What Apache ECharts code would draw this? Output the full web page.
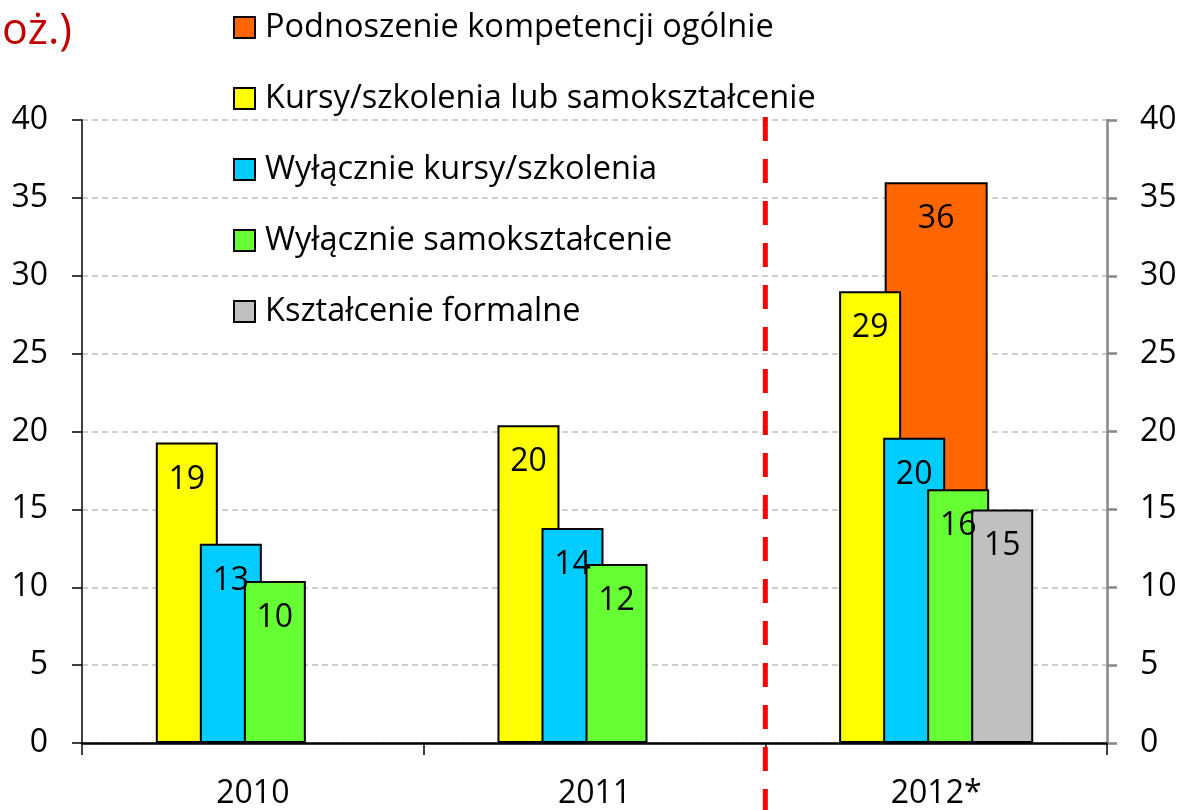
<!DOCTYPE html>
<html>
<head>
<meta charset="utf-8">
<script src="https://cdn.jsdelivr.net/npm/echarts@6/dist/echarts.min.js"></script>
<style>
  html, body { margin: 0; padding: 0; background: #fff; }
  #chart { width: 1182px; height: 810px; }
</style>
</head>
<body>
<div id="chart"></div>
<script>
const years = ['2010', '2011', '2012*'];
const podnoszenie = [null, null, 36.0];
const kursyLubSamo = [19.3, 20.4, 29.0];
const kursy = [12.8, 13.8, 19.6];
const samo = [10.4, 11.5, 16.3];
const formalne = [null, null, 15.0];
const yTicks = { min: 0, max: 40, interval: 5 };
const dividerAt = 2; // granica między 2011 a 2012*

const FONT = 'Open Sans';
const FS = 32;
const chart = echarts.init(document.getElementById('chart'));

const barLabel = {
  show: true,
  position: 'insideTop',
  distance: 21,
  fontFamily: FONT,
  fontSize: FS,
  color: '#000',
  formatter: p => Math.round(p.value)
};

function bar(name, color, data) {
  return {
    name: name,
    type: 'bar',
    xAxisIndex: 0,
    barWidth: 62,
    barGap: '-29%',
    z: 2,
    itemStyle: { color: color, borderColor: '#000', borderWidth: 2 },
    label: barLabel,
    data: data
  };
}

chart.setOption({
  animation: false,
  title: {
    text: 'oż.)',
    left: -3,
    top: 5,
    textStyle: { color: '#c00000', fontFamily: FONT, fontSize: 43, fontWeight: 'normal' }
  },
  legend: {
    orient: 'vertical',
    left: 228,
    top: 6,
    itemWidth: 21,
    itemHeight: 21,
    itemGap: 38,
    icon: 'rect',
    textStyle: { color: '#000', fontFamily: FONT, fontSize: 32.5, lineHeight: FS, padding: [0, 0, 0, 5] },
    data: [
      'Podnoszenie kompetencji ogólnie',
      'Kursy/szkolenia lub samokształcenie',
      'Wyłącznie kursy/szkolenia',
      'Wyłącznie samokształcenie',
      'Kształcenie formalne'
    ]
  },
  grid: { left: 82, right: 75, top: 120, bottom: 67, containLabel: false },
  xAxis: [{
    type: 'category',
    data: years,
    axisLine: { lineStyle: { color: '#000', width: 2.5 } },
    axisTick: { show: true, length: 12, interval: 0, lineStyle: { color: '#000', width: 1.5 } },
    axisLabel: { color: '#000', fontFamily: FONT, fontSize: FS, margin: 35 }
  }, {
    type: 'category',
    data: years,
    show: false
  }, {
    type: 'value',
    min: 0,
    max: years.length,
    show: false
  }],
  yAxis: [{
    type: 'value',
    min: yTicks.min,
    max: yTicks.max,
    interval: yTicks.interval,
    axisLine: { show: true, lineStyle: { color: '#000', width: 1.5 } },
    axisTick: { show: true, length: 10, lineStyle: { color: '#000', width: 1.5 } },
    axisLabel: { color: '#000', fontFamily: FONT, fontSize: FS, margin: 34 },
    splitLine: { lineStyle: { color: '#bfbfbf', width: 1.5, type: [6, 4] } }
  }, {
    type: 'value',
    position: 'right',
    min: yTicks.min,
    max: yTicks.max,
    interval: yTicks.interval,
    axisLine: { show: true, lineStyle: { color: '#868686', width: 2.5 } },
    axisTick: { show: true, length: 10, lineStyle: { color: '#868686', width: 2.5 } },
    axisLabel: { color: '#000', fontFamily: FONT, fontSize: FS, margin: 33 },
    splitLine: { show: false }
  }],
  series: [
    {
      name: 'Podnoszenie kompetencji ogólnie',
      type: 'bar',
      xAxisIndex: 1,
      barWidth: 103,
      z: 1,
      itemStyle: { color: '#ff6600', borderColor: '#000', borderWidth: 2 },
      label: barLabel,
      data: podnoszenie
    },
    bar('Kursy/szkolenia lub samokształcenie', '#ffff00', kursyLubSamo),
    bar('Wyłącznie kursy/szkolenia', '#00ccff', kursy),
    bar('Wyłącznie samokształcenie', '#66ff33', samo),
    bar('Kształcenie formalne', '#c0c0c0', formalne)
  ]
});

// czerwona przerywana linia oddzielająca prognozę
const dx = chart.convertToPixel({ xAxisIndex: 2 }, dividerAt);
const yTop = chart.convertToPixel({ yAxisIndex: 0 }, yTicks.max);
chart.setOption({
  graphic: [{
    type: 'line',
    z: 100,
    shape: { x1: dx, y1: yTop - 3, x2: dx, y2: 810 },
    style: { stroke: '#ff0000', lineWidth: 5, lineDash: [24, 18] }
  }]
});
</script>
</body>
</html>
